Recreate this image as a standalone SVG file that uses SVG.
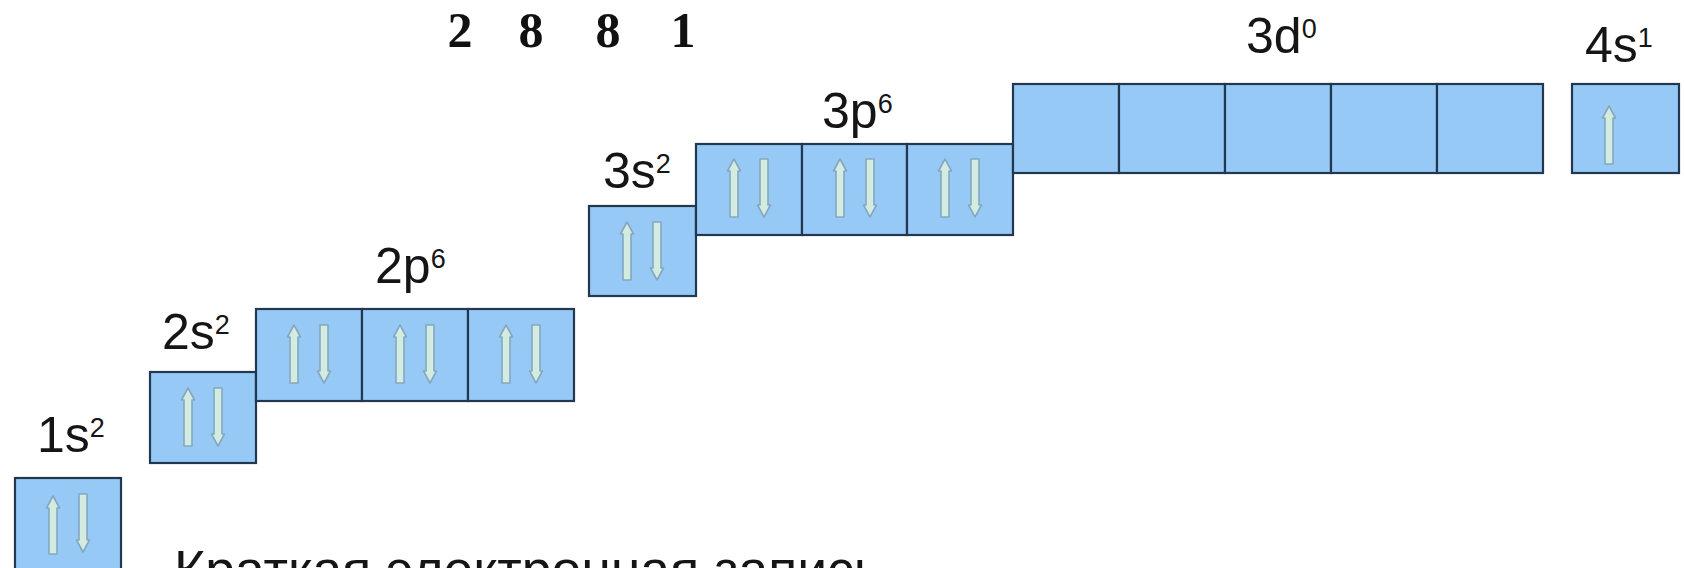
<svg xmlns="http://www.w3.org/2000/svg" xmlns:xlink="http://www.w3.org/1999/xlink" width="1684" height="568" viewBox="0 0 1684 568">
  <style>
    .cell { fill: #97c9f7; stroke: #22384f; stroke-width: 2.2; }
    .spin { fill: #d3ece2; stroke: #86a7bd; stroke-width: 1.6; stroke-linejoin: round; }
    .lbl { font-family: "Liberation Sans", Arial, sans-serif; font-size: 50px; fill: #151515; }
    .sup { font-size: 27px; }
    .shell { font-family: "Liberation Serif", "Times New Roman", serif; font-weight: bold; font-size: 50px; fill: #111; text-anchor: middle; }
    .note { font-family: "Liberation Sans", Arial, sans-serif; font-size: 53.5px; fill: #151515; }
  </style>
  <defs>
    <!-- hollow spin arrows, origin at the top centre, 58 px long -->
    <path id="up" class="spin" d="M0,0 L6.5,12 L4,12 L4,58 L-4,58 L-4,12 L-6.5,12 Z"/>
    <path id="down" class="spin" d="M0,58 L6.5,46 L4,46 L4,0 L-4,0 L-4,46 L-6.5,46 Z"/>
  </defs>

  <rect width="1684" height="568" fill="#ffffff"/>

  <!-- electrons per shell -->
  <g id="shells">
    <text class="shell" x="460" y="47">2</text>
    <text class="shell" x="531" y="47">8</text>
    <text class="shell" x="608" y="47">8</text>
    <text class="shell" x="683" y="47">1</text>
  </g>

  <!-- 1s -->
  <g id="orb-1s">
    <rect class="cell" x="15" y="478" width="106" height="100"/>
    <use xlink:href="#up" x="53" y="496"/>
    <use xlink:href="#down" x="83" y="494"/>
    <text class="lbl" x="37" y="452">1s<tspan class="sup" dy="-15">2</tspan></text>
  </g>

  <!-- 2s -->
  <g id="orb-2s">
    <rect class="cell" x="150" y="372" width="106" height="91"/>
    <use xlink:href="#up" x="188" y="388"/>
    <use xlink:href="#down" x="218" y="388"/>
    <text class="lbl" x="162" y="349">2s<tspan class="sup" dy="-15">2</tspan></text>
  </g>

  <!-- 2p -->
  <g id="orb-2p">
    <rect class="cell" x="256" y="309" width="106" height="92"/>
    <rect class="cell" x="362" y="309" width="106" height="92"/>
    <rect class="cell" x="468" y="309" width="106" height="92"/>
    <use xlink:href="#up" x="294" y="325"/>
    <use xlink:href="#down" x="324" y="325"/>
    <use xlink:href="#up" x="400" y="325"/>
    <use xlink:href="#down" x="430" y="325"/>
    <use xlink:href="#up" x="506" y="325"/>
    <use xlink:href="#down" x="536" y="325"/>
    <text class="lbl" x="375" y="283">2p<tspan class="sup" dy="-15">6</tspan></text>
  </g>

  <!-- 3s -->
  <g id="orb-3s">
    <rect class="cell" x="589" y="206" width="107" height="90"/>
    <use xlink:href="#up" x="627" y="222"/>
    <use xlink:href="#down" x="657" y="222"/>
    <text class="lbl" x="603" y="188">3s<tspan class="sup" dy="-15">2</tspan></text>
  </g>

  <!-- 3p -->
  <g id="orb-3p">
    <rect class="cell" x="696" y="144" width="106" height="91"/>
    <rect class="cell" x="802" y="144" width="105" height="91"/>
    <rect class="cell" x="907" y="144" width="106" height="91"/>
    <use xlink:href="#up" x="734" y="159"/>
    <use xlink:href="#down" x="764" y="159"/>
    <use xlink:href="#up" x="840" y="159"/>
    <use xlink:href="#down" x="870" y="159"/>
    <use xlink:href="#up" x="945" y="159"/>
    <use xlink:href="#down" x="975" y="159"/>
    <text class="lbl" x="822" y="128">3p<tspan class="sup" dy="-15">6</tspan></text>
  </g>

  <!-- 3d (empty) -->
  <g id="orb-3d">
    <rect class="cell" x="1013" y="84" width="106" height="89"/>
    <rect class="cell" x="1119" y="84" width="106" height="89"/>
    <rect class="cell" x="1225" y="84" width="106" height="89"/>
    <rect class="cell" x="1331" y="84" width="106" height="89"/>
    <rect class="cell" x="1437" y="84" width="106" height="89"/>
    <text class="lbl" x="1246" y="53">3d<tspan class="sup" dy="-15">0</tspan></text>
  </g>

  <!-- 4s -->
  <g id="orb-4s">
    <rect class="cell" x="1572" y="84" width="107" height="89"/>
    <use xlink:href="#up" x="1609" y="106"/>
    <text class="lbl" x="1585" y="62">4s<tspan class="sup" dy="-15">1</tspan></text>
  </g>

  <!-- caption, running off the bottom edge -->
  <g id="caption">
    <text class="note" x="174" y="588">Краткая электронная запись -</text>
  </g>
</svg>
